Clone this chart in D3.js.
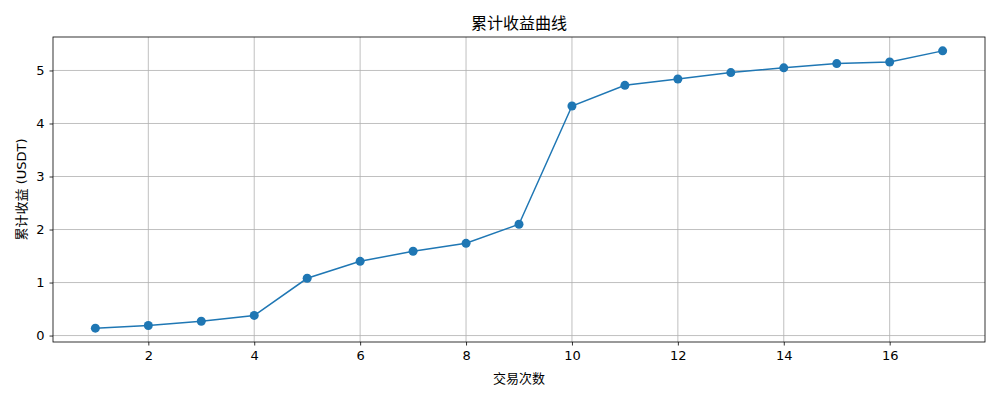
<!DOCTYPE html>
<html>
<head>
<meta charset="utf-8">
<script src="https://cdn.jsdelivr.net/npm/d3@7"></script>
<style>
  body { margin: 0; background: #fff; }
  text { font-family: "DejaVu Sans", "Noto Sans CJK SC", sans-serif; }
  .grid line { stroke: #b0b0b0; stroke-width: 0.8; }
</style>
</head>
<body>
<div id="chart"></div>
<script>
// cumulative profit per trade
var trades = [1, 2, 3, 4, 5, 6, 7, 8, 9, 10, 11, 12, 13, 14, 15, 16, 17];
var profits = [0.14, 0.19, 0.27, 0.38, 1.08, 1.40, 1.59, 1.74, 2.10, 4.33, 4.72, 4.84, 4.96, 5.05, 5.13, 5.16, 5.37];
var xTicks = [2, 4, 6, 8, 10, 12, 14, 16];
var yTicks = [0, 1, 2, 3, 4, 5];

var titleText = "累计收益曲线";
var xLabel = "交易次数";
var yLabel = "累计收益 (USDT)";

var width = 1000, height = 400;
var margin = {top: 37, right: 15, bottom: 58, left: 53};
var w = width - margin.left - margin.right;
var h = height - margin.top - margin.bottom;

var data = trades.map(function(t, i) { return {x: t, y: profits[i]}; });

// matplotlib style 5% padding
var xExt = d3.extent(trades), yExt = d3.extent(profits);
var xPad = (xExt[1] - xExt[0]) * 0.05, yPad = (yExt[1] - yExt[0]) * 0.05;

var x = d3.scaleLinear().domain([xExt[0] - xPad, xExt[1] + xPad]).range([0, w]);
var y = d3.scaleLinear().domain([yExt[0] - yPad, yExt[1] + yPad]).range([h, 0]);

var svg = d3.select("#chart").append("svg")
    .attr("width", width)
    .attr("height", height);

var g = svg.append("g")
    .attr("transform", "translate(" + margin.left + "," + margin.top + ")");

// grid
g.append("g").attr("class", "grid")
    .selectAll("line.gx").data(xTicks).enter().append("line")
    .attr("x1", function(d) { return x(d); })
    .attr("x2", function(d) { return x(d); })
    .attr("y1", 0).attr("y2", h);

g.append("g").attr("class", "grid")
    .selectAll("line.gy").data(yTicks).enter().append("line")
    .attr("y1", function(d) { return y(d); })
    .attr("y2", function(d) { return y(d); })
    .attr("x1", 0).attr("x2", w);

// axes
var xAxis = g.append("g")
    .attr("transform", "translate(0," + h + ")")
    .call(d3.axisBottom(x).tickValues(xTicks).tickFormat(d3.format("d")).tickSize(3.5).tickPadding(5));
var yAxis = g.append("g")
    .call(d3.axisLeft(y).tickValues(yTicks).tickFormat(d3.format("d")).tickSize(3.5).tickPadding(5));

[xAxis, yAxis].forEach(function(a) {
    a.select(".domain").remove();
    a.selectAll("text").attr("font-size", 13).attr("fill", "#000")
        .style("font-family", "'DejaVu Sans', sans-serif");
    a.selectAll("line").attr("stroke", "#000").attr("stroke-width", 0.8);
});

// frame
g.append("rect")
    .attr("width", w).attr("height", h)
    .attr("fill", "none").attr("stroke", "#000").attr("stroke-width", 0.8);

// line + markers
var line = d3.line()
    .x(function(d) { return x(d.x); })
    .y(function(d) { return y(d.y); });

g.append("path")
    .datum(data)
    .attr("d", line)
    .attr("fill", "none")
    .attr("stroke", "#1f77b4")
    .attr("stroke-width", 1.5);

g.selectAll("circle").data(data).enter().append("circle")
    .attr("cx", function(d) { return x(d.x); })
    .attr("cy", function(d) { return y(d.y); })
    .attr("r", 4.5)
    .attr("fill", "#1f77b4");

// titles
svg.append("text")
    .attr("x", margin.left + w / 2)
    .attr("y", margin.top - 8)
    .attr("text-anchor", "middle")
    .attr("font-size", 16)
    .text(titleText);

svg.append("text")
    .attr("x", margin.left + w / 2)
    .attr("y", height - 17)
    .attr("text-anchor", "middle")
    .attr("font-size", 13)
    .text(xLabel);

svg.append("text")
    .attr("transform", "translate(26," + (margin.top + h / 2) + ") rotate(-90)")
    .attr("text-anchor", "middle")
    .attr("font-size", 13)
    .text(yLabel);
</script>
</body>
</html>
